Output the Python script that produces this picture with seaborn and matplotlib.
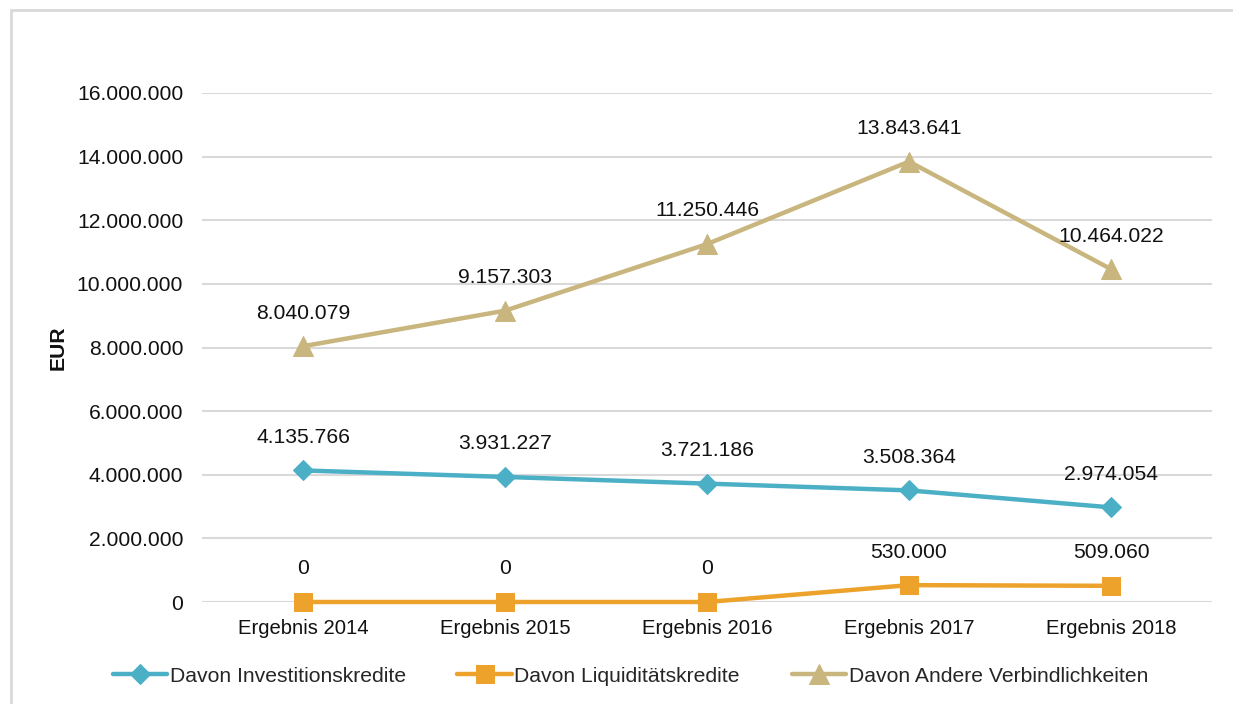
import pandas as pd
import matplotlib.pyplot as plt
import matplotlib.ticker as ticker
from matplotlib.patches import Rectangle
import seaborn as sns

years = ['Ergebnis 2014', 'Ergebnis 2015', 'Ergebnis 2016', 'Ergebnis 2017', 'Ergebnis 2018']
investition = [4135766, 3931227, 3721186, 3508364, 2974054]
liquiditaet = [0, 0, 0, 530000, 509060]
andere = [8040079, 9157303, 11250446, 13843641, 10464022]

series = [
    ('Davon Investitionskredite', investition, '#4bafc6', 'D', 10),
    ('Davon Liquiditätskredite', liquiditaet, '#eca22b', 's', 13.5),
    ('Davon Andere Verbindlichkeiten', andere, '#c8b67e', '^', 15),
]

sns.set_theme(style='white')
plt.rcParams['font.family'] = ['Liberation Sans', 'DejaVu Sans']
FS = 15.2

def fmt(v):
    return f'{v:,.0f}'.replace(',', '.')

fig = plt.figure(figsize=(12.33, 7.04), dpi=100)
# light frame around the chart area
fig.patches.append(Rectangle((11 / 1233, -0.1), 1.2, 1 - 10 / 704 + 0.1, transform=fig.transFigure,
                             fill=False, edgecolor='#d9d9d9', linewidth=2))
ax = fig.add_axes([202 / 1233, 102 / 704, 1010 / 1233, 509 / 704])

for name, vals, color, marker, ms in series:
    df = pd.DataFrame({'x': range(len(years)), 'y': vals})
    sns.lineplot(data=df, x='x', y='y', ax=ax, color=color, linewidth=3.2, marker=marker,
                 markersize=ms, markeredgecolor=color, label=name, zorder=3, clip_on=False)
    for i, v in enumerate(vals):
        ax.annotate(fmt(v), (i, v), xytext=(0, 17), textcoords='offset points',
                    ha='center', va='bottom', fontsize=FS, color='#111111')

ax.set_xlim(-0.5, 4.5)
ax.set_ylim(0, 16000000)
ax.set_xticks(range(len(years)))
ax.set_xticklabels(years)
ax.yaxis.set_major_locator(ticker.MultipleLocator(2000000))
ax.yaxis.set_major_formatter(ticker.FuncFormatter(lambda v, p: fmt(v)))
ax.grid(axis='y', color='#d9d9d9', linewidth=1.5, zorder=0)
ax.set_axisbelow(True)
for s in ax.spines.values():
    s.set_visible(False)
ax.tick_params(axis='both', length=0, labelsize=FS, labelcolor='#111111')
ax.tick_params(axis='x', labelsize=14.6, pad=12)
ax.tick_params(axis='y', pad=13.5)
ax.set_xlabel('')
ax.set_ylabel('EUR', fontsize=FS, fontweight='bold', labelpad=7, color='#111111')

ax.legend(loc='center', bbox_to_anchor=(0.424, -(676 - 602) / 509), frameon=False, ncol=3,
          fontsize=FS, handlelength=2.6, handletextpad=0.1, columnspacing=2.45)

fig.savefig('out.png', dpi=100)
